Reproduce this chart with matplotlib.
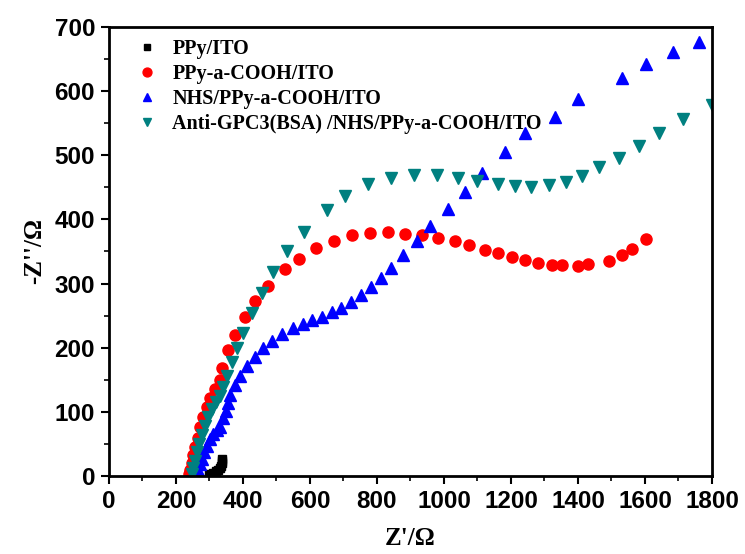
import matplotlib
matplotlib.use("Agg")
import matplotlib.pyplot as plt
from matplotlib.ticker import MultipleLocator

# PPy/ITO
ppy_x = [300, 310, 318, 325, 330, 334, 336, 337, 336]
ppy_y = [3, 5, 8, 10, 13, 16, 20, 24, 27]

# PPy-a-COOH/ITO
cooh_x = [240, 243, 247, 252, 258, 265, 273, 282, 292, 303, 316, 331, 338, 356,
          376, 406, 436, 476, 525, 567, 618, 672, 726, 780, 834, 885, 933, 983,
          1033, 1075, 1122, 1162, 1202, 1242, 1282, 1322, 1351, 1401, 1431, 1493,
          1532, 1562, 1602]
cooh_y = [3, 10, 20, 32, 45, 60, 76, 92, 108, 122, 136, 150, 169, 196,
          220, 248, 273, 296, 322, 339, 356, 367, 375, 379, 380, 378, 376, 371,
          366, 360, 352, 347, 341, 336, 332, 329, 329, 328, 331, 335,
          344, 354, 370]

# NHS/PPy-a-COOH/ITO
nhs_x = [262, 266, 271, 277, 284, 292, 301, 311, 321, 331, 341, 349, 355, 361,
         376, 391, 411, 436, 461, 488, 515, 550, 578, 607, 637, 665, 694, 722,
         751, 781, 811, 843, 877, 918, 958, 1012, 1063, 1112, 1182, 1242, 1331,
         1401, 1532, 1603, 1683, 1762]
nhs_y = [3, 10, 18, 27, 37, 47, 57, 66, 72, 77, 90, 101, 114, 127,
         142, 156, 171, 186, 200, 211, 221, 230, 237, 243, 248, 256, 262, 271,
         282, 295, 309, 325, 344, 366, 389, 416, 443, 472, 505, 534, 560,
         588, 621, 643, 661, 676]

# Anti-GPC3(BSA) /NHS/PPy-a-COOH/ITO
gpc_x = [248, 252, 257, 263, 270, 278, 287, 297, 308, 319, 331, 341, 351, 366,
         383, 401, 428, 456, 491, 532, 582, 650, 705, 774, 842, 911, 978, 1043,
         1099, 1160, 1212, 1261, 1313, 1363, 1412, 1463, 1522, 1583, 1642, 1713,
         1799]
gpc_y = [3, 12, 24, 37, 50, 64, 78, 92, 105, 115, 124, 139, 156, 178,
         199, 223, 254, 285, 318, 351, 381, 415, 437, 455, 465, 469, 469, 464,
         460, 455, 452, 450, 453, 458, 467, 481, 496, 514, 535, 557,
         578]

fig = plt.figure(figsize=(7.45, 5.54), dpi=100)
ax = fig.add_axes([0.1463, 0.1408, 0.8094, 0.8105])

ax.plot(ppy_x, ppy_y, ls="none", marker="s", ms=6, color="black", label="PPy/ITO")
ax.plot(cooh_x, cooh_y, ls="none", marker="o", ms=8, color="#ff0000", label="PPy-a-COOH/ITO")
ax.plot(nhs_x, nhs_y, ls="none", marker="^", ms=8, color="#0000ff", label="NHS/PPy-a-COOH/ITO")
ax.plot(gpc_x, gpc_y, ls="none", marker="v", ms=8, color="#008080",
        label="Anti-GPC3(BSA) /NHS/PPy-a-COOH/ITO")

ax.set_xlim(0, 1800)
ax.set_ylim(0, 700)
ax.xaxis.set_major_locator(MultipleLocator(200))
ax.xaxis.set_minor_locator(MultipleLocator(100))
ax.yaxis.set_major_locator(MultipleLocator(100))
ax.yaxis.set_minor_locator(MultipleLocator(50))
ax.tick_params(which="major", direction="out", length=6, width=1.5, pad=4)
ax.tick_params(which="minor", direction="out", length=3.5, width=1.2)
for s in ax.spines.values():
    s.set_linewidth(2)

for lab in ax.get_xticklabels() + ax.get_yticklabels():
    lab.set_family("Liberation Sans")
    lab.set_fontweight("bold")
    lab.set_fontsize(17.5)

ax.set_xlabel("Z'/\u03a9", family="Liberation Serif", fontweight="bold", fontsize=18, labelpad=10)
ax.set_ylabel("-Z''/\u03a9", family="Liberation Serif", fontweight="bold", fontsize=18, labelpad=6)

leg = ax.legend(loc="upper left", frameon=False, handletextpad=0.5, handlelength=1.5,
                borderaxespad=0.3, labelspacing=0.25, markerscale=0.8,
                prop={"family": "Liberation Serif", "weight": "bold", "size": 14.5},
                bbox_to_anchor=(0.015, 1.005))

fig.savefig("out.png", dpi=100)
